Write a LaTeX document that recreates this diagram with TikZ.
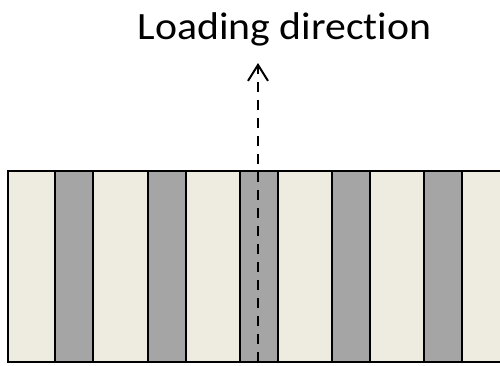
\documentclass[tikz,border=0pt]{standalone}
\usepackage{fontspec}
\setmainfont{Carlito}[Ligatures=NoCommon]
\usetikzlibrary{arrows.meta}
\definecolor{lightfill}{HTML}{EEEBE0}
\definecolor{darkfill}{HTML}{A5A5A5}
\tikzset{
  lightstripe/.style={fill=lightfill, draw=black, line width=1.5pt},
  darkstripe/.style={fill=darkfill, draw=black, line width=1.5pt},
  loadarrow/.style={line width=1.5pt, dash pattern=on 7.5pt off 6pt, -{Straight Barb[length=12pt,width=15pt,line width=1.5pt]}}
}
\begin{document}
\begin{tikzpicture}[x=0.75pt,y=-0.75pt]
\useasboundingbox (0,0) rectangle (500,365);
\begin{scope}
\clip (0,0) rectangle (500,365);
\draw[lightstripe] (8,171) rectangle (520,362);
\foreach \x in {55,148,240,332,424} {
  \draw[darkstripe] (\x,171) rectangle ++(38,191);
}
\end{scope}
\node[font=\fontsize{29}{34}\selectfont, anchor=base] (label) at (284.5,39.5) {\scalebox{1.08}[1]{Loading direction}};
\coordinate (start) at (258,362);
\coordinate (tip) at (258,63);
\draw[loadarrow] (start) -- (tip);
\end{tikzpicture}
\end{document}
